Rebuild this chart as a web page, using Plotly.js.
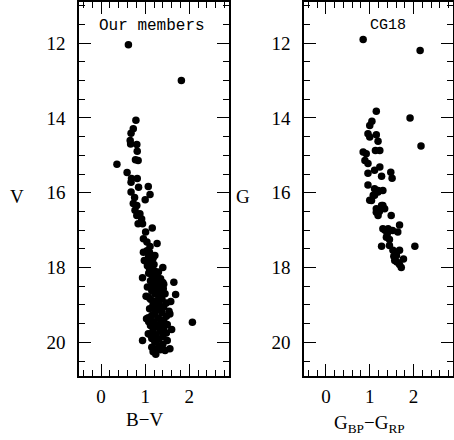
<!DOCTYPE html>
<html><head><meta charset="utf-8">
<script src="https://cdn.plot.ly/plotly-3.0.1.min.js"></script>
<style>html,body{margin:0;padding:0;background:#fff}</style>
</head><body><div id="chart" style="width:454px;height:440px"></div>
<script>
// Left panel: our members (B-V, V)
const ourBV = [0.62,1.82,0.79,0.73,0.68,0.66,0.67,0.81,0.82,0.78,0.84,0.36,0.59,0.69,0.82,0.68,0.85,1.07,0.68,1.11,0.76,1.00,0.73,0.81,0.77,0.88,0.81,0.92,0.84,0.94,1.16,1.01,0.96,1.04,1.27,1.11,0.96,1.04,1.22,0.98,1.15,1.08,1.40,1.15,1.05,0.94,1.26,1.65,1.33,1.41,1.69,1.07,1.58,1.18,1.54,1.07,2.07,1.60,1.11,0.94,1.56,1.15,1.24,1.34,1.02,1.03,1.56,1.07,
1.10,1.18,1.05,1.20,1.10,1.22,1.30,1.08,1.17,1.35,1.12,1.25,1.42,1.18,1.05,1.28,1.35,1.15,1.22,1.45,1.30,1.12,1.38,1.25,1.48,1.18,1.32,1.42,1.10,1.28,1.38,1.22,1.48,1.15,1.30,1.42,1.20,1.35,1.50,1.12,1.27,1.42,1.18,1.35,1.48,1.25,1.40,1.15,1.30,1.50,1.22,1.40,1.32,1.45,1.18,1.30,1.08,1.25,1.40,1.20,1.35];
const ourV = [12.04,13.00,14.06,14.29,14.41,14.60,14.70,14.71,14.89,15.12,15.14,15.24,15.46,15.62,15.62,15.72,15.85,15.83,15.98,16.05,16.13,16.19,16.29,16.34,16.47,16.56,16.61,16.70,16.83,16.83,16.94,17.05,17.23,17.32,17.36,17.44,17.59,17.55,17.68,17.81,17.81,17.70,18.00,18.00,17.95,18.27,18.21,18.39,18.43,18.57,18.72,18.79,18.91,19.06,19.17,19.34,19.46,19.66,19.79,19.95,20.17,20.13,20.32,20.20,18.77,19.37,19.24,19.77,
17.60,17.75,17.88,17.92,18.05,18.10,18.12,18.15,18.25,18.30,18.35,18.38,18.45,18.48,18.52,18.55,18.62,18.62,18.70,18.70,18.75,18.85,18.85,18.90,18.95,18.98,19.00,19.05,19.10,19.12,19.20,19.22,19.30,19.28,19.35,19.40,19.45,19.48,19.52,19.55,19.58,19.62,19.68,19.70,19.75,19.80,19.85,19.90,19.92,19.95,20.00,20.05,20.10,20.22,20.25,20.15,19.45,19.05,18.40,18.90,19.60];

// Right panel: CG18 (G_BP - G_RP, G)
const cgColor = [0.85,2.15,1.15,1.92,1.05,1.00,2.17,0.96,1.00,1.15,1.19,0.85,0.92,1.13,1.23,0.89,0.96,1.23,1.11,0.96,1.48,1.27,1.51,0.96,1.11,1.19,1.30,1.08,1.04,1.11,1.19,1.30,1.15,1.34,1.19,1.49,1.30,1.42,1.68,1.52,1.64,1.38,1.27,2.03,1.45,1.53,1.68,1.61,1.77,1.57,1.68,1.72,1.00,1.27,1.15,1.35,1.45,1.55,1.62,1.22,1.40];
const cgG = [11.90,12.20,13.82,14.00,14.09,14.20,14.75,14.42,14.51,14.45,14.62,14.91,14.96,14.87,14.87,15.14,15.22,15.31,15.40,15.48,15.45,15.56,15.61,15.79,15.89,15.94,15.94,16.07,16.21,16.07,15.98,16.34,16.43,16.43,16.61,16.61,16.96,16.96,16.86,17.01,17.05,17.19,17.43,17.43,17.41,17.54,17.54,17.68,17.77,17.81,17.92,18.00,16.20,16.34,16.52,17.00,17.25,17.70,17.85,16.50,17.10];

const xTicks = [0, 1, 2];
const yTicks = [12, 14, 16, 18, 20];

const serif = {family: 'Liberation Serif, serif', size: 19, color: '#000'};
const mono = {family: 'Liberation Mono, monospace', size: 16, color: '#000'};
const marker = {size: 7.5, color: '#000', line: {width: 0}};

const traces = [
  {x: ourBV, y: ourV, type: 'scatter', mode: 'markers', marker: marker, xaxis: 'x', yaxis: 'y', hoverinfo: 'x+y'},
  {x: cgColor, y: cgG, type: 'scatter', mode: 'markers', marker: marker, xaxis: 'x2', yaxis: 'y2', hoverinfo: 'x+y'}
];

function xa(domain, anchor) {
  return {domain: domain, anchor: anchor, range: [-0.5, 2.9], tickmode: 'array', tickvals: xTicks,
    ticks: 'inside', ticklen: 12, tickwidth: 1, tickcolor: '#000',
    minor: {tick0: 0, dtick: 0.2, ticks: 'inside', ticklen: 6, tickwidth: 1, tickcolor: '#000', showgrid: false},
    mirror: 'ticks', showline: true, linewidth: 1.6, linecolor: '#000',
    showgrid: false, zeroline: false, tickfont: serif, ticklabelstandoff: 3};
}
function ya(anchor) {
  return {domain: [0, 1], anchor: anchor, range: [20.9, 10.9], tickmode: 'array', tickvals: yTicks,
    ticks: 'inside', ticklen: 12, tickwidth: 1, tickcolor: '#000',
    minor: {tick0: 0, dtick: 0.5, ticks: 'inside', ticklen: 6, tickwidth: 1, tickcolor: '#000', showgrid: false},
    mirror: 'ticks', showline: true, linewidth: 1.6, linecolor: '#000',
    showgrid: false, zeroline: false, tickfont: serif, ticklabelstandoff: 8};
}

const layout = {
  width: 454, height: 440,
  margin: {l: 79, r: 1, t: 2, b: 64},
  paper_bgcolor: '#fff', plot_bgcolor: '#fff',
  showlegend: false,
  xaxis: xa([0, 0.4011], 'y'),
  yaxis: ya('x'),
  xaxis2: xa([0.6016, 1], 'y2'),
  yaxis2: ya('x2'),
  annotations: [
    {text: 'Our members', xref: 'x', yref: 'y', x: 1.15, y: 11.53, xanchor: 'center', yanchor: 'middle', showarrow: false, font: mono},
    {text: 'CG18', xref: 'x2', yref: 'y2', x: 1.41, y: 11.53, xanchor: 'center', yanchor: 'middle', showarrow: false, font: {family: 'Liberation Mono, monospace', size: 15, color: '#000'}},
    {text: 'V', xref: 'paper', yref: 'paper', x: -0.166, y: 0.479, xanchor: 'center', yanchor: 'middle', showarrow: false, font: serif},
    {text: 'G', xref: 'paper', yref: 'paper', x: 0.4385, y: 0.479, xanchor: 'center', yanchor: 'middle', showarrow: false, font: serif},
    {text: 'B\u2212V', xref: 'paper', yref: 'paper', x: 0.176, y: -0.1176, xanchor: 'center', yanchor: 'middle', showarrow: false, font: serif},
    {text: 'G<sub>BP</sub>\u2212G<sub>RP</sub>', xref: 'paper', yref: 'paper', x: 0.778, y: -0.128, xanchor: 'center', yanchor: 'middle', showarrow: false, font: serif}
  ]
};

Plotly.newPlot('chart', traces, layout, {displayModeBar: false, staticPlot: true});
</script>
</body></html>
